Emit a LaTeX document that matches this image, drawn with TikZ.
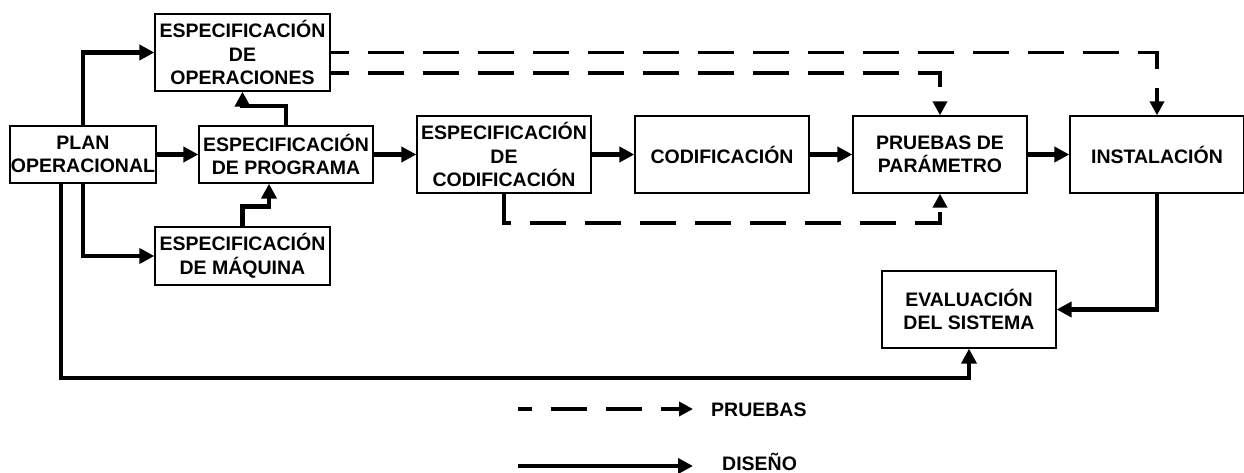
\documentclass[tikz,border=0pt]{standalone}
\usepackage{fontspec}
\setmainfont{Liberation Sans}
\usetikzlibrary{arrows.meta,calc}
\begin{document}
\begin{tikzpicture}[x=1pt,y=-1pt,
  box/.style={draw=black,line width=1.3pt,inner sep=0pt,align=center,
    font=\fontsize{19.5}{23.5}\selectfont\bfseries},
  flow/.style={line width=4.3pt,-{Triangle[length=15pt,width=15pt]}},
  test/.style={line width=3.8pt,dash pattern=on 36pt off 19pt,dash phase=18pt,
    -{Triangle[length=14pt,width=14pt]}},
  lbl/.style={inner sep=0pt,anchor=base west,font=\fontsize{19.5}{23.5}\selectfont\bfseries}]
\useasboundingbox (0,0) rectangle (1244,473);
\node[box,minimum width=175pt,minimum height=77pt] (ope) at (242.5,52.5) {ESPECIFICACIÓN\\DE\\OPERACIONES};
\node[box,minimum width=146pt,minimum height=57pt] (plan) at (83,154.5) {PLAN\\OPERACIONAL};
\node[box,minimum width=174pt,minimum height=57pt] (prog) at (286,154.5) {ESPECIFICACIÓN\\DE PROGRAMA};
\node[box,minimum width=175pt,minimum height=58pt] (maq) at (242.5,256) {ESPECIFICACIÓN\\DE MÁQUINA};
\node[box,minimum width=174pt,minimum height=77pt] (espcod) at (504,154.5) {ESPECIFICACIÓN\\DE\\CODIFICACIÓN};
\node[box,minimum width=174pt,minimum height=77pt] (cod) at (722,154.5) {CODIFICACIÓN};
\node[box,minimum width=174pt,minimum height=77pt] (prue) at (940,154.5) {PRUEBAS DE\\PARÁMETRO};
\node[box,minimum width=174pt,minimum height=77pt] (inst) at (1157,154.5) {INSTALACIÓN};
\node[box,minimum width=174pt,minimum height=77pt] (eval) at (969,309.5) {EVALUACIÓN\\DEL SISTEMA};
% design connectors
\draw[flow] (plan.north) |- (ope.west);
\draw[flow] (plan.east) -- (prog.west);
\draw[flow] (plan.south) |- (maq.west);
\draw[flow] (prog.north) -- ++(0,-19) -| (ope.south);
\draw[flow] (maq.north) -- ++(0,-20) -| ([xshift=-17pt]prog.south);
\draw[flow] (prog.east) -- (espcod.west);
\draw[flow] (espcod.east) -- (cod.west);
\draw[flow] (cod.east) -- (prue.west);
\draw[flow] (prue.east) -- (inst.west);
\draw[flow] (inst.south) |- (eval.east);
\draw[flow] ([xshift=-22pt]plan.south) -- ++(0,194) -| (eval.south);
% test connectors
\draw[test] (ope.east) -| (inst.north);
\draw[test] ([yshift=-20.5pt]ope.east) -| (prue.north);
\draw[test,dash phase=0pt] (espcod.south) -- ++(0,29) -| (prue.south);
% legend
\coordinate (l1a) at (518,409);
\coordinate (l1b) at (693,409);
\coordinate (l2a) at (518,466);
\coordinate (l2b) at (693,466);
\draw[test,dash phase=22pt] (l1a) -- (l1b);
\draw[flow] (l2a) -- (l2b);
\node[lbl] (lp) at (711,416) {PRUEBAS};
\node[lbl] (ld) at (722,470) {DISEÑO};
\end{tikzpicture}
\end{document}
